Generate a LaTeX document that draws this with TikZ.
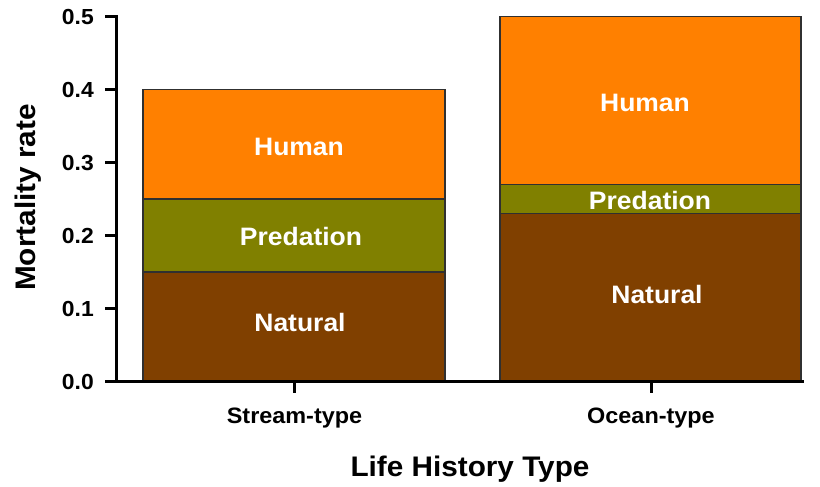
\documentclass[tikz,border=0pt]{standalone}
\usepackage{fontspec}
\setmainfont{Liberation Sans}[FakeStretch=1.05]
\definecolor{human}{HTML}{FF8000}
\definecolor{pred}{HTML}{808000}
\definecolor{natural}{HTML}{804000}
\definecolor{edge}{HTML}{303030}
\begin{document}
\begin{tikzpicture}[x=1pt,y=-1pt,
  seg/.style={draw=edge,line width=1.3pt},
  axisline/.style={line width=3pt,black},
  ticklab/.style={anchor=base east,inner sep=0pt,font=\bfseries\fontsize{21.8}{26}\selectfont},
  catlab/.style={anchor=base,inner sep=0pt,font=\bfseries\fontsize{22.3}{26}\selectfont},
  barlab/.style={anchor=base,inner sep=0pt,text=white,font=\bfseries\fontsize{25.2}{30}\selectfont},
  axtitle/.style={anchor=base,inner sep=0pt,font=\bfseries\fontsize{28.3}{33}\selectfont}]
\useasboundingbox (0,0) rectangle (820,487);
% Stream-type bar
\draw[seg,fill=natural] (143,381.7) rectangle (445,272.1);
\draw[seg,fill=pred] (143,272.1) rectangle (445,199);
\draw[seg,fill=human] (143,199) rectangle (445,89.4);
% Ocean-type bar
\draw[seg,fill=natural] (500,381.7) rectangle (801,213.6);
\draw[seg,fill=pred] (500,213.6) rectangle (801,184.4);
\draw[seg,fill=human] (500,184.4) rectangle (801,16.3);
% bar labels
\node[barlab] (sh) at (299,155) {Human};
\node[barlab] (sp) at (301,245) {Predation};
\node[barlab] (sn) at (300,331) {Natural};
\node[barlab] (oh) at (645,111) {Human};
\node[barlab] (op) at (650,209) {Predation};
\node[barlab] (on) at (657,303) {Natural};
% axes
\draw[axisline,line cap=rect] (116,16.3) -- (116,381.7) -- (802,381.7);
\foreach \v/\yy in {0.0/381.7,0.1/308.6,0.2/235.5,0.3/162.5,0.4/89.4,0.5/16.3}{
  \draw[axisline] (105,\yy) -- (116,\yy);
  \node[ticklab] at (94,\yy+7.8) {\v};
}
\draw[axisline] (294,381.7) -- (294,393);
\draw[axisline] (651,381.7) -- (651,393);
\node[catlab] (cs) at (294.5,423) {Stream-type};
\node[catlab] (co) at (651,423) {Ocean-type};
\node[axtitle] (xt) at (470,476) {Life History Type};
\node[axtitle,rotate=90] (yt) at (35,197.5) {Mortality rate};
\end{tikzpicture}
\end{document}
